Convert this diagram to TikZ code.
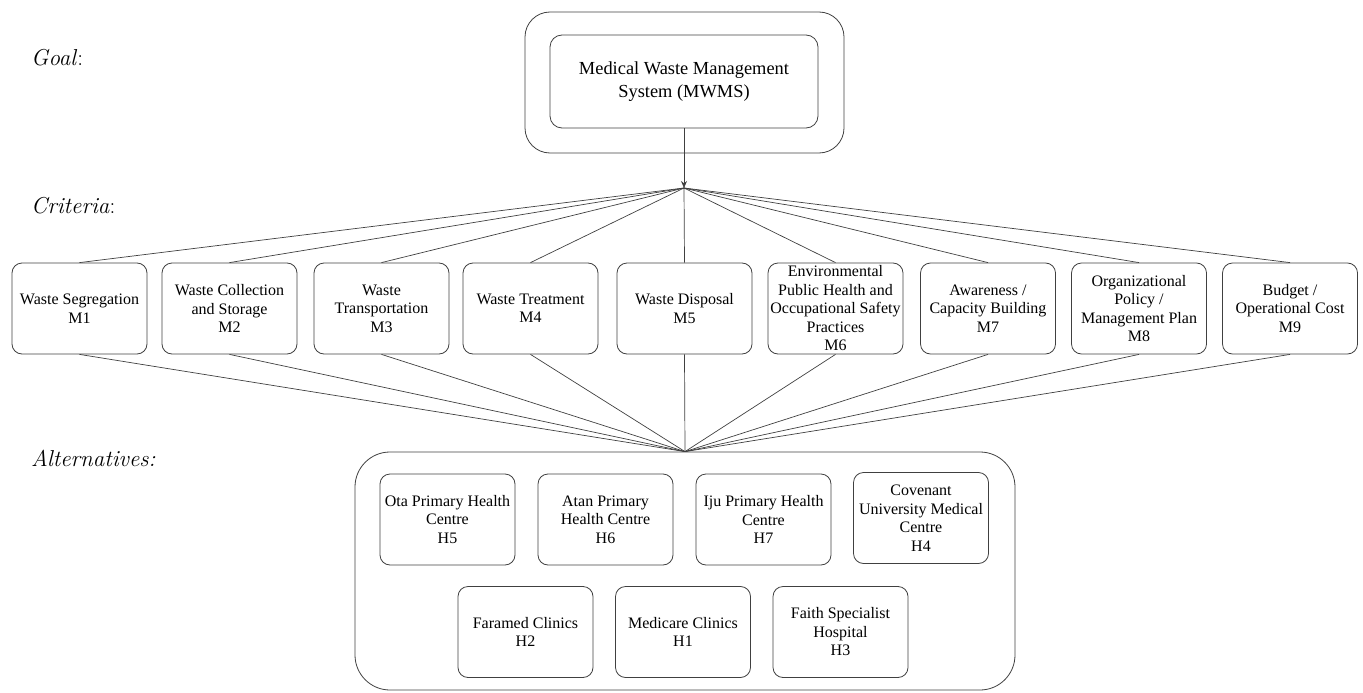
\documentclass[tikz,border=0pt]{standalone}
\usepackage{fontspec}
\newfontfamily\timesfont{Liberation Serif}
\usetikzlibrary{arrows.meta}
\begin{document}
\begin{tikzpicture}[x=1pt,y=-1pt,
  box/.style={draw=black!75, line width=0.8pt, rounded corners=10pt, minimum width=135pt, minimum height=91pt, inner sep=0pt, align=center, font=\timesfont\fontsize{16}{18.5}\selectfont},
  frame/.style={draw=black!75, line width=0.8pt, inner sep=0pt},
  lbl/.style={anchor=base west, inner sep=0pt, font=\fontsize{23}{27}\selectfont},
  conn/.style={draw=black!75, line width=0.7pt}]
\useasboundingbox (0,0) rectangle (1363,693);
% labels
\node[lbl] (lgoal) at (31,66) {\textit{Goal}:};
\node[lbl] (lcrit) at (31,213) {\textit{Criteria}:};
\node[lbl] (lalt) at (31,466) {\textit{Alternatives:}};
% goal
\node[frame, rounded corners=25pt, minimum width=319pt, minimum height=141pt] (gout) at (684.5,82.5) {};
\node[frame, rounded corners=12pt, minimum width=268pt, minimum height=93pt, align=center, font=\timesfont\fontsize{18.4}{22.5}\selectfont] (goal) at (684,81.5) {Medical Waste Management\\System (MWMS)};
\coordinate (hub) at (684,188);
\draw[conn, -{Stealth[length=7pt,width=6pt]}] (goal.south) -- (hub);
% criteria
\node[box] (m1) at (79.5,308.5) {Waste Segregation\\M1};
\node[box] (m2) at (229.5,308.5) {Waste Collection\\and Storage\\M2};
\node[box] (m3) at (381.5,308.5) {Waste\\Transportation\\M3};
\node[box] (m4) at (530.5,308.5) {Waste Treatment\\M4};
\node[box] (m5) at (684.5,308.5) {Waste Disposal\\M5};
\node[box] (m6) at (835.5,308.5) {Environmental\\Public Health and\\Occupational Safety\\Practices\\M6};
\node[box] (m7) at (988,308.5) {Awareness /\\Capacity Building\\M7};
\node[box] (m8) at (1139,308.5) {Organizational\\Policy /\\Management Plan\\M8};
\node[box] (m9) at (1290,308.5) {Budget /\\Operational Cost\\M9};
% alternatives
\node[frame, rounded corners=35pt, minimum width=660pt, minimum height=238pt] (alt) at (685,571) {};
\node[box] (h5) at (447.5,519.5) {Ota Primary Health\\Centre\\H5};
\node[box] (h6) at (605.5,519.5) {Atan Primary\\Health Centre\\H6};
\node[box] (h7) at (763.5,519.5) {Iju Primary Health\\Centre\\H7};
\node[box] (h4) at (921,518) {Covenant\\University Medical\\Centre\\H4};
\node[box] (h2) at (525.5,632) {Faramed Clinics\\H2};
\node[box] (h1) at (683,632) {Medicare Clinics\\H1};
\node[box] (h3) at (840.5,632) {Faith Specialist\\Hospital\\H3};
% connectors
\foreach \n in {m1,m2,m3,m4,m5,m6,m7,m8,m9}{
  \draw[conn] (hub) -- (\n.north);
  \draw[conn] (\n.south) -- (alt.north);
}
\end{tikzpicture}
\end{document}
